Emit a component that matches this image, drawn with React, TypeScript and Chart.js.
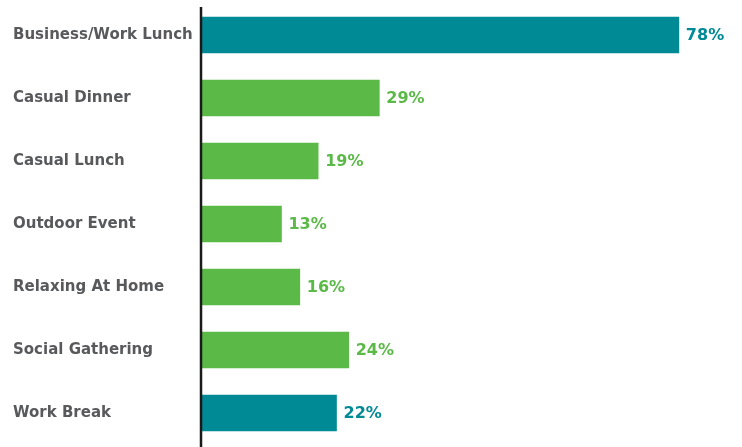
import React, { useEffect, useRef } from "react";
import { Chart, registerables } from "chart.js";

Chart.register(...registerables);

const categories = [
  "Business/Work Lunch",
  "Casual Dinner",
  "Casual Lunch",
  "Outdoor Event",
  "Relaxing At Home",
  "Social Gathering",
  "Work Break",
];
const values = [78, 29, 19, 13, 16, 24, 22];
const barColors = ["#008A96", "#5BB947", "#5BB947", "#5BB947", "#5BB947", "#5BB947", "#008A96"];

const FONT = "'DejaVu Sans', sans-serif";

const axisLinePlugin = {
  id: "axisLine",
  afterDatasetsDraw(chart: any) {
    const ctx = chart.ctx;
    const x = chart.chartArea.left - 1;
    ctx.save();
    ctx.strokeStyle = "#1a1a1a";
    ctx.lineWidth = 2.5;
    ctx.beginPath();
    ctx.moveTo(x, 7);
    ctx.lineTo(x, chart.height);
    ctx.stroke();
    ctx.restore();
  },
};

const valueLabelPlugin = {
  id: "valueLabels",
  afterDatasetsDraw(chart: any) {
    const ctx = chart.ctx;
    const meta = chart.getDatasetMeta(0);
    ctx.save();
    ctx.font = `bold 16px ${FONT}`;
    ctx.textAlign = "left";
    ctx.textBaseline = "middle";
    meta.data.forEach((bar: any, i: number) => {
      ctx.fillStyle = barColors[i];
      ctx.fillText(`${values[i]}%`, bar.x + 7, bar.y + 1);
    });
    ctx.restore();
  },
};

export default function App() {
  const ref = useRef<HTMLCanvasElement>(null);
  useEffect(() => {
    if (!ref.current) return;
    const chart = new Chart(ref.current, {
      type: "bar",
      data: {
        labels: categories,
        datasets: [
          {
            data: values,
            backgroundColor: barColors,
            barThickness: 36,
          },
        ],
      },
      plugins: [axisLinePlugin, valueLabelPlugin],
      options: {
        indexAxis: "y",
        animation: false,
        responsive: false,
        maintainAspectRatio: false,
        layout: { padding: { left: 13, right: 2, top: 3.5, bottom: 2.5 } },
        plugins: { legend: { display: false }, tooltip: { enabled: false } },
        scales: {
          x: { display: false, min: 0, max: 88 },
          y: {
            grid: { display: false },
            border: { display: false },
            ticks: {
              crossAlign: "far",
              color: "#58595B",
              font: { family: FONT, size: 15, weight: "bold" },
            },
            afterFit(scale: any) {
              scale.width = 189;
              scale.paddingTop = 0;
              scale.paddingBottom = 0;
            },
          },
        },
      },
    });
    return () => chart.destroy();
  }, []);
  return (
    <div style={{ position: "fixed", left: 0, top: 0, width: 742, height: 447, background: "#fff" }}>
      <canvas ref={ref} width={742} height={447} />
    </div>
  );
}
